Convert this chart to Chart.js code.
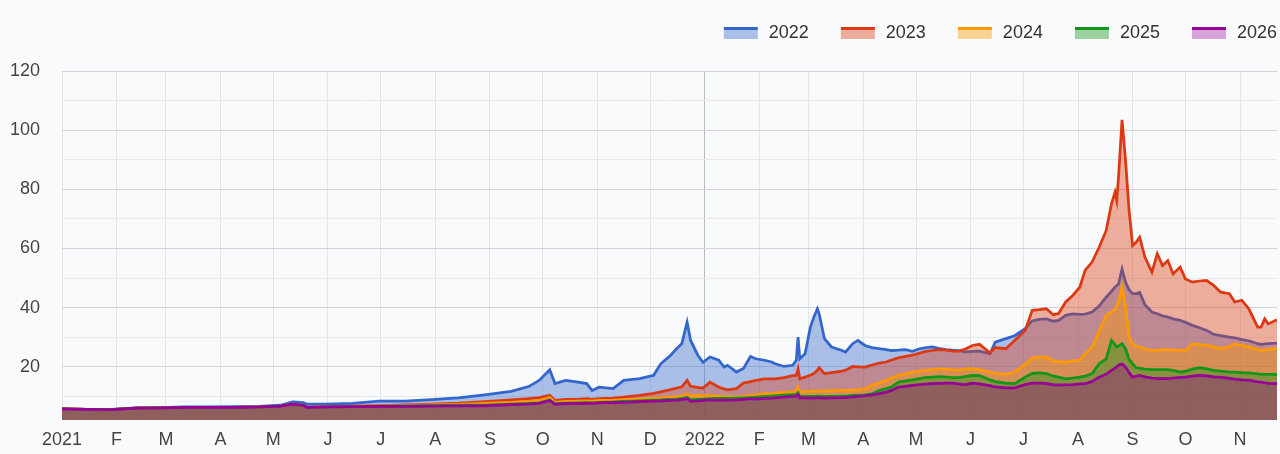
<!DOCTYPE html>
<html>
<head>
<meta charset="utf-8">
<script src="https://cdn.jsdelivr.net/npm/chart.js@4"></script>
<style>
  html, body { margin: 0; padding: 0; background: #f8fafb; }
  #wrap { width: 1280px; height: 454px; }
</style>
</head>
<body>
<div id="wrap"><canvas id="c" width="1280" height="454"></canvas></div>
<script>
// Day index counted from 1 Jan 2021
const days = [
  0,14,28,42,56,70,84,98,112,124,131,137,139,150,165,180,195,210,225,240,
  255,265,271,277,280,286,293,298,301,305,313,319,328,336,340,345,349,352,355,357,
  361,364,368,373,376,378,383,387,391,394,399,403,405,410,415,417,418,419,422,425,
  427,429,430,433,437,443,445,449,452,456,460,464,468,471,475,479,483,487,490,494,
  498,502,506,509,513,517,521,527,530,536,541,547,551,555,559,563,566,570,574,578,
  581,585,589,593,596,598,599,600,602,604,606,608,610,612,615,619,622,625,628,631,
  635,638,642,646,650,654,658,663,666,670,674,679,681,683,685,690
];

const seriesNames = ['2022', '2023', '2024', '2025', '2026'];

const values2022 = [
  5.8,5.6,5.6,6.1,6.2,6.4,6.4,6.5,6.6,7.0,8.1,7.9,7.4,7.4,7.6,8.4,8.4,8.9,9.5,10.5,
  11.7,13.3,15.4,19.0,14.3,15.4,14.8,14.3,12.0,13.1,12.6,15.4,16.0,17.1,21.0,23.5,26.1,27.8,35.1,28.9,
  24.0,21.5,23.3,22.2,19.9,20.5,18.2,19.4,23.5,22.7,22.2,21.6,21.0,20.1,20.5,22.2,30.0,22.7,24.4,33.4,
  36.8,39.6,37.9,29.5,26.7,25.5,25.0,27.8,28.9,27.2,26.5,26.1,25.8,25.5,25.6,25.8,25.2,26.1,26.4,26.7,
  26.2,25.8,25.6,25.5,25.0,25.2,25.3,24.4,28.3,29.5,30.5,32.9,35.5,36.0,36.2,35.4,35.7,37.4,37.9,37.7,
  37.8,38.5,40.5,43.5,45.5,47.0,47.5,48.0,53.1,48.6,46.0,44.7,44.7,45.2,41.0,38.5,37.9,37.2,36.8,36.2,
  35.7,35.0,34.0,33.2,32.3,31.0,30.5,30.0,29.8,29.2,28.8,27.8,27.6,27.7,27.8,28.0
];
const values2023 = [
  5.8,5.6,5.5,6.0,6.1,6.3,6.3,6.3,6.4,6.7,7.4,7.0,6.3,6.5,6.7,6.9,7.1,7.4,7.7,8.2,
  8.8,9.2,9.6,10.4,8.6,9.0,9.0,9.2,9.0,9.2,9.4,9.7,10.3,11.0,11.5,12.2,12.8,13.2,15.4,13.4,
  13.0,12.8,14.8,13.1,12.5,12.2,12.6,14.5,15.0,15.4,15.9,15.9,15.9,16.3,17.0,17.1,19.3,15.9,16.5,17.1,
  17.8,18.8,19.7,17.7,18.0,18.5,18.8,20.1,20.0,19.9,20.6,21.2,21.6,22.3,23.0,23.5,23.9,24.6,25.1,25.5,
  25.8,25.6,25.3,25.2,26.0,27.2,27.6,24.7,26.5,26.1,28.9,32.3,39.1,39.3,39.6,37.6,38.0,41.9,44.1,46.9,
  52.6,55.4,60.4,66.1,75.1,79.0,76.2,84.1,103.5,89.7,72.8,61.0,62.1,63.8,57.0,52.0,58.2,54.2,55.9,51.4,
  53.7,49.7,48.6,49.0,49.2,47.5,45.2,44.7,41.9,42.5,39.6,33.4,33.4,36.2,34.5,35.9
];
const values2024 = [
  5.8,5.6,5.5,6.0,6.1,6.3,6.3,6.3,6.4,6.7,7.4,7.0,6.3,6.5,6.6,6.8,6.9,7.1,7.3,7.6,
  8.0,8.3,8.6,9.6,8.0,8.3,8.4,8.5,8.4,8.6,8.7,8.9,9.1,9.3,9.5,9.7,9.9,10.1,10.8,10.2,
  10.3,10.2,10.2,10.0,9.9,9.8,9.8,10.0,10.3,10.5,10.9,11.0,11.1,11.3,11.5,12.0,13.1,11.5,11.6,11.7,
  11.8,11.8,11.8,11.8,11.9,12.0,12.0,12.1,12.2,12.5,13.7,14.5,15.4,16.2,17.1,17.6,18.2,18.5,18.8,19.0,
  19.3,19.1,19.0,18.8,19.3,19.3,19.0,18.2,17.8,17.4,18.2,20.8,23.0,23.3,23.3,22.0,21.8,21.6,22.0,22.2,
  24.4,26.7,32.0,37.4,38.5,39.5,40.7,42.0,46.9,40.2,30.0,27.8,27.0,26.7,26.0,25.5,25.5,25.8,25.8,25.6,
  25.5,25.5,27.8,27.5,27.2,26.8,26.1,26.8,27.8,27.2,26.7,25.8,25.5,25.7,25.9,26.1
];
const values2025 = [
  5.8,5.6,5.5,6.0,6.1,6.3,6.3,6.3,6.4,6.7,7.4,7.0,6.3,6.4,6.5,6.7,6.8,6.9,7.0,7.0,
  7.4,7.6,7.8,8.8,7.5,7.7,7.8,7.9,7.8,8.0,8.1,8.3,8.5,8.7,8.8,9.0,9.1,9.3,9.6,8.8,
  9.0,9.1,9.2,9.3,9.3,9.3,9.4,9.5,9.6,9.7,9.9,10.1,10.2,10.4,10.6,10.7,11.2,10.0,10.0,10.0,
  10.0,10.1,10.1,10.0,10.0,10.1,10.1,10.3,10.4,10.5,10.8,12.0,12.6,13.1,14.8,15.2,15.6,16.0,16.3,16.5,
  16.7,16.5,16.3,16.3,16.7,17.1,17.0,15.6,15.0,14.5,14.3,16.5,17.8,17.9,17.7,16.8,16.5,15.9,16.2,16.5,
  16.8,17.7,21.0,22.7,28.9,27.5,26.7,27.0,27.8,26.1,22.5,21.0,19.7,19.5,19.2,19.0,19.0,19.0,19.0,18.8,
  18.2,18.5,19.2,19.7,19.3,18.8,18.5,18.2,18.2,18.0,17.9,17.6,17.4,17.4,17.4,17.4
];
const values2026 = [
  5.8,5.6,5.5,6.0,6.1,6.3,6.3,6.3,6.4,6.7,7.4,7.0,6.3,6.4,6.5,6.6,6.6,6.7,6.8,6.8,
  7.2,7.4,7.6,8.6,7.3,7.5,7.6,7.7,7.6,7.8,7.9,8.0,8.2,8.4,8.5,8.6,8.7,8.9,9.2,8.3,
  8.5,8.6,8.8,8.7,8.8,8.7,8.8,9.0,9.2,9.1,9.3,9.4,9.5,9.7,10.0,10.1,10.6,9.5,9.5,9.4,
  9.4,9.5,9.5,9.4,9.5,9.6,9.6,9.8,10.0,10.2,10.5,10.9,11.4,12.0,13.1,13.4,13.7,14.0,14.1,14.3,
  14.4,14.5,14.5,14.2,14.0,14.5,14.2,13.6,13.2,12.9,12.9,14.0,14.5,14.5,14.4,13.9,13.9,13.9,14.0,14.2,
  14.3,15.0,16.5,17.5,18.8,19.5,20.0,20.5,21.0,19.9,18.0,16.5,16.8,17.1,16.6,16.2,16.0,16.1,16.0,16.2,
  16.4,16.5,16.8,17.1,16.9,16.6,16.5,16.1,15.8,15.6,15.5,14.9,14.8,14.6,14.4,14.3
];

// x tick positions (month starts) and their labels
const monthTickDays = [0,31,59,90,120,151,181,212,243,273,304,334,365,396,424,455,485,516,546,577,608,638,669];
const monthTickLabels = ['2021','F','M','A','M','J','J','A','S','O','N','D','2022','F','M','A','M','J','J','A','S','O','N'];
const yTickValues = [10,20,30,40,50,60,70,80,90,100,110,120];

const lineColors = ['#3366cc', '#dc3912', '#ff9900', '#109618', '#990099'];
const fillColors = ['rgba(51,102,204,0.4)', 'rgba(220,57,18,0.4)', 'rgba(255,153,0,0.4)', 'rgba(16,150,24,0.4)', 'rgba(153,0,153,0.35)'];
const allValues = [values2022, values2023, values2024, values2025, values2026];

function legendIcon(i) {
  const c = document.createElement('canvas');
  c.width = 68; c.height = 14;
  const g = c.getContext('2d');
  g.fillStyle = fillColors[i];
  g.fillRect(32, 1, 34, 12);
  g.fillStyle = lineColors[i];
  g.fillRect(32, 1, 34, 3);
  return c;
}
const legendIcons = seriesNames.map((_, i) => legendIcon(i));

const datasets = seriesNames.map((name, i) => ({
  label: name,
  data: days.map((d, k) => ({ x: d, y: allValues[i][k] })),
  borderColor: lineColors[i],
  backgroundColor: fillColors[i],
  borderWidth: 2.75,
  pointRadius: 0,
  tension: 0,
  fill: 'start',
  order: seriesNames.length - i
}));

const legendGap = {
  id: 'legendGap',
  beforeUpdate(chart) {
    const lg = chart.legend;
    if (lg && !lg._gapPatched) {
      const fit = lg.fit;
      lg.fit = function () { fit.call(this); this.height += 19; };
      lg._gapPatched = true;
    }
  }
};

new Chart(document.getElementById('c'), {
  type: 'line',
  data: { datasets },
  plugins: [legendGap],
  options: {
    responsive: false,
    devicePixelRatio: 1,
    animation: false,
    layout: { padding: { left: 10, right: 3, top: 24, bottom: 3 } },
    plugins: {
      tooltip: { enabled: false },
      legend: {
        position: 'top',
        align: 'end',
        labels: {
          usePointStyle: true,
          pointStyleWidth: 68,
          boxHeight: 14,
          padding: 0,
          color: '#333',
          font: { family: 'Liberation Sans, Arial, sans-serif', size: 18 },
          sort: (a, b) => a.datasetIndex - b.datasetIndex,
          generateLabels(chart) {
            const items = Chart.defaults.plugins.legend.labels.generateLabels(chart);
            items.forEach(it => { it.pointStyle = legendIcons[it.datasetIndex]; });
            return items;
          }
        }
      }
    },
    scales: {
      x: {
        type: 'linear',
        min: 0,
        max: 690,
        afterBuildTicks(axis) { axis.ticks = monthTickDays.map(v => ({ value: v })); },
        afterFit(axis) { axis.height = 31; },
        ticks: {
          autoSkip: false,
          maxRotation: 0,
          padding: 9,
          color: '#444',
          font: { family: 'Liberation Sans, Arial, sans-serif', size: 18 },
          callback: (v, i) => monthTickLabels[i]
        },
        grid: {
          drawTicks: false,
          color: ctx => (ctx.tick && ctx.tick.value === 365) ? '#b8bdc3' : '#e3e6e9',
          lineWidth: 1
        },
        border: { display: false }
      },
      y: {
        min: 2,
        max: 120,
        afterBuildTicks(axis) { axis.ticks = yTickValues.map(v => ({ value: v })); },
        afterFit(axis) { axis.width = 52; },
        ticks: {
          padding: 22,
          color: '#444',
          font: { family: 'Liberation Sans, Arial, sans-serif', size: 18 },
          callback: v => (v % 20 === 0 ? String(v) : '')
        },
        grid: {
          drawTicks: false,
          color: ctx => (ctx.tick && ctx.tick.value % 20 === 0) ? '#d2d6da' : '#e7eaed',
          lineWidth: 1
        },
        border: { display: false }
      }
    }
  }
});
</script>
</body>
</html>
